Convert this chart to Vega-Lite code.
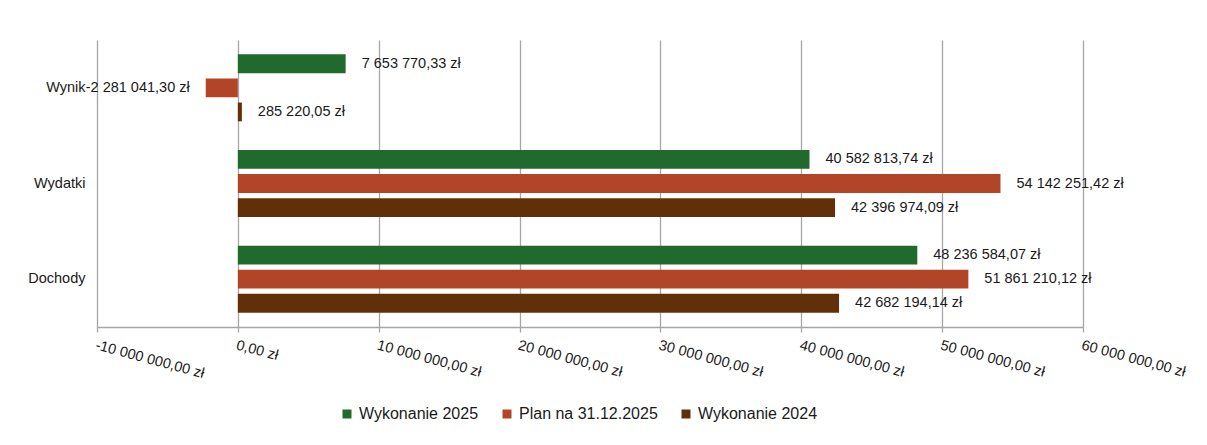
{
  "$schema": "https://vega.github.io/schema/vega-lite/v6.json",
  "autosize": {"type": "none"},
  "width": 986,
  "height": 287,
  "padding": {"left": 97, "top": 40, "right": 124, "bottom": 118},
  "background": "#ffffff",
  "config": {
    "locale": {"number": {"decimal": ",", "thousands": " ", "grouping": [3], "currency": ["", " zł"], "minus": "-"}},
    "font": "Liberation Sans",
    "view": {"stroke": null},
    "text": {"font": "Liberation Sans"}
  },
  "data": {
    "values": [
      {"kategoria": "Wynik", "seria": "Wykonanie 2025", "wartosc": 7653770.33},
      {"kategoria": "Wynik", "seria": "Plan na 31.12.2025", "wartosc": -2281041.30},
      {"kategoria": "Wynik", "seria": "Wykonanie 2024", "wartosc": 285220.05},
      {"kategoria": "Wydatki", "seria": "Wykonanie 2025", "wartosc": 40582813.74},
      {"kategoria": "Wydatki", "seria": "Plan na 31.12.2025", "wartosc": 54142251.42},
      {"kategoria": "Wydatki", "seria": "Wykonanie 2024", "wartosc": 42396974.09},
      {"kategoria": "Dochody", "seria": "Wykonanie 2025", "wartosc": 48236584.07},
      {"kategoria": "Dochody", "seria": "Plan na 31.12.2025", "wartosc": 51861210.12},
      {"kategoria": "Dochody", "seria": "Wykonanie 2024", "wartosc": 42682194.14}
    ]
  },
  "encoding": {
    "y": {
      "field": "kategoria", "type": "nominal",
      "sort": ["Wynik", "Wydatki", "Dochody"],
      "scale": {"paddingInner": 0.3, "paddingOuter": 0.15},
      "axis": {"title": null, "domain": false, "ticks": false, "labelPadding": 12, "labelFontSize": 14.5, "labelColor": "#1a1a1a", "labelFont": "Liberation Sans"}
    },
    "yOffset": {
      "field": "seria", "type": "nominal",
      "sort": ["Wykonanie 2025", "Plan na 31.12.2025", "Wykonanie 2024"],
      "scale": {"paddingInner": 0.22}
    },
    "x": {
      "field": "wartosc", "type": "quantitative",
      "scale": {"domain": [-10000000, 60000000], "nice": false, "zero": false},
      "axis": {
        "title": null,
        "values": [-10000000, 0, 10000000, 20000000, 30000000, 40000000, 50000000, 60000000],
        "format": "$,.2f",
        "labelAngle": 15, "labelAlign": "left", "labelBaseline": "top",
        "labelPadding": 6, "labelFontSize": 14.5, "labelColor": "#1a1a1a", "labelFont": "Liberation Sans",
        "labelOverlap": false, "labelBound": false, "labelFlush": false,
        "grid": true, "gridColor": "#a6a6a6", "gridWidth": 1.3,
        "domainColor": "#a6a6a6", "domainWidth": 1.3,
        "tickColor": "#a6a6a6", "tickWidth": 1.3, "tickSize": 5
      }
    }
  },
  "layer": [
    {
      "mark": {"type": "bar"},
      "encoding": {
        "color": {
          "field": "seria", "type": "nominal",
          "sort": ["Wykonanie 2025", "Plan na 31.12.2025", "Wykonanie 2024"],
          "scale": {"domain": ["Wykonanie 2025", "Plan na 31.12.2025", "Wykonanie 2024"], "range": ["#216A2E", "#B24528", "#623008"]},
          "legend": {
            "title": null, "orient": "none", "legendX": 242, "legendY": 366,
            "direction": "horizontal", "symbolType": "square", "symbolSize": 81,
            "symbolStrokeWidth": 0, "labelFontSize": 16, "labelColor": "#1a1a1a", "labelFont": "Liberation Sans",
            "labelOffset": 4, "columnPadding": 20, "labelLimit": 300, "padding": 0
          }
        }
      }
    },
    {
      "transform": [{"filter": "datum.wartosc >= 0"}],
      "mark": {"type": "text", "align": "left", "baseline": "middle", "dx": 16, "fontSize": 14.5, "color": "#1a1a1a", "font": "Liberation Sans"},
      "encoding": {"text": {"field": "wartosc", "type": "quantitative", "format": "$,.2f"}}
    },
    {
      "transform": [{"filter": "datum.wartosc < 0"}],
      "mark": {"type": "text", "align": "right", "baseline": "middle", "dx": -16, "fontSize": 14.5, "color": "#1a1a1a", "font": "Liberation Sans"},
      "encoding": {"text": {"field": "wartosc", "type": "quantitative", "format": "$,.2f"}}
    }
  ]
}
